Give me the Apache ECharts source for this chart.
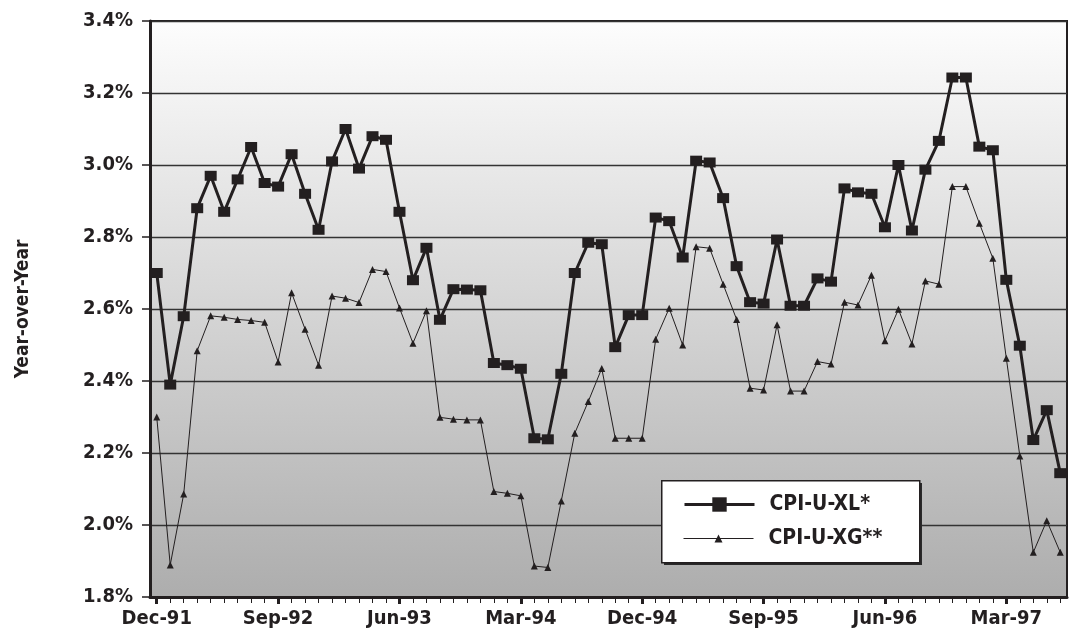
<!DOCTYPE html>
<html>
<head>
<meta charset="utf-8">
<script src="https://cdn.jsdelivr.net/npm/echarts@6/dist/echarts.min.js"></script>
<style>
  html, body { margin: 0; padding: 0; background: #ffffff; }
  #chart { width: 1069px; height: 636px; }
</style>
</head>
<body>
<div id="chart"></div>
<script>
// Monthly year-over-year CPI experimental measures, Dec-91 to Jul-97
const months = [
  'Dec-91','Jan-92','Feb-92','Mar-92','Apr-92','May-92','Jun-92','Jul-92','Aug-92','Sep-92','Oct-92','Nov-92',
  'Dec-92','Jan-93','Feb-93','Mar-93','Apr-93','May-93','Jun-93','Jul-93','Aug-93','Sep-93','Oct-93','Nov-93',
  'Dec-93','Jan-94','Feb-94','Mar-94','Apr-94','May-94','Jun-94','Jul-94','Aug-94','Sep-94','Oct-94','Nov-94',
  'Dec-94','Jan-95','Feb-95','Mar-95','Apr-95','May-95','Jun-95','Jul-95','Aug-95','Sep-95','Oct-95','Nov-95',
  'Dec-95','Jan-96','Feb-96','Mar-96','Apr-96','May-96','Jun-96','Jul-96','Aug-96','Sep-96','Oct-96','Nov-96',
  'Dec-96','Jan-97','Feb-97','Mar-97','Apr-97','May-97','Jun-97','Jul-97'
];

const seriesNames = ['CPI-U-XL*', 'CPI-U-XG**'];

// CPI-U-XL*, percent
const cpiXL = [
  2.70, 2.39, 2.58, 2.88, 2.97, 2.87, 2.96, 3.05, 2.95, 2.94, 3.03, 2.92,
  2.82, 3.01, 3.10, 2.99, 3.08, 3.07, 2.87, 2.68, 2.77, 2.57, 2.655, 2.654,
  2.652, 2.45, 2.444, 2.434, 2.241, 2.238, 2.42, 2.70, 2.784, 2.78, 2.494, 2.583,
  2.583, 2.854, 2.844, 2.743, 3.012, 3.007, 2.908, 2.719, 2.619, 2.615, 2.793, 2.609,
  2.609, 2.685, 2.676, 2.935, 2.924, 2.92, 2.827, 3.00, 2.818, 2.987, 3.067, 3.243,
  3.243, 3.051, 3.041, 2.681, 2.498, 2.236, 2.319, 2.144
];

// CPI-U-XG**, percent
const cpiXG = [
  2.30, 1.889, 2.086, 2.484, 2.581, 2.577, 2.571, 2.568, 2.563, 2.453, 2.645, 2.544,
  2.444, 2.636, 2.630, 2.618, 2.710, 2.704, 2.603, 2.505, 2.595, 2.299, 2.294, 2.292,
  2.292, 2.093, 2.088, 2.081, 1.886, 1.882, 2.067, 2.255, 2.343, 2.435, 2.241, 2.241,
  2.241, 2.516, 2.602, 2.50, 2.773, 2.769, 2.669, 2.571, 2.380, 2.375, 2.556, 2.372,
  2.372, 2.454, 2.447, 2.619, 2.611, 2.694, 2.512, 2.599, 2.503, 2.678, 2.669, 2.940,
  2.940, 2.838, 2.741, 2.463, 2.192, 1.924, 2.012, 1.924
];

// Value axis ticks
const yMin = 1.8, yMax = 3.4, yStep = 0.2;

const ink = '#231f20';
const font = '"DejaVu Sans Condensed", "DejaVu Sans", sans-serif';

const chart = echarts.init(document.getElementById('chart'), null, { renderer: 'canvas' });

chart.setOption({
  backgroundColor: '#ffffff',
  animation: false,
  grid: {
    left: 150, right: 2, top: 21, bottom: 39,
    show: true,
    borderColor: ink,
    borderWidth: 2,
    backgroundColor: {
      type: 'linear', x: 0, y: 0, x2: 0, y2: 1,
      colorStops: [
        { offset: 0, color: '#fdfdfd' },
        { offset: 1, color: '#adadad' }
      ]
    }
  },
  // Legend frame with its offset drop shadow
  graphic: [{
    type: 'rect',
    left: 664, top: 483, z: 49,
    shape: { width: 258, height: 82 },
    style: { fill: '#2a2a2a' }
  }, {
    type: 'rect',
    left: 661, top: 480, z: 50,
    shape: { width: 258, height: 82 },
    style: { fill: '#ffffff', stroke: ink, lineWidth: 1.5 }
  }],
  legend: [{
    data: [seriesNames[0]],
    left: 683, top: 494,
    padding: 0,
    itemWidth: 70, itemHeight: 18, itemGap: 0,
    lineStyle: { width: 3 },
    z: 60,
    textStyle: { fontFamily: font, fontWeight: 'bold', fontSize: 21, color: ink, padding: [0, 0, 0, 10] }
  }, {
    data: [seriesNames[1]],
    left: 683, top: 528,
    padding: 0,
    itemWidth: 70, itemHeight: 10, itemGap: 0,
    lineStyle: { width: 1 },
    z: 60,
    textStyle: { fontFamily: font, fontWeight: 'bold', fontSize: 21, color: ink, padding: [0, 0, 0, 10] }
  }],
  xAxis: [{
    type: 'category',
    data: months,
    boundaryGap: true,
    axisLine: { show: true, lineStyle: { color: ink, width: 3 } },
    axisTick: { show: true, interval: 0, alignWithLabel: true, length: 6, lineStyle: { color: ink, width: 1 } },
    axisLabel: {
      interval: 8, margin: 12,
      fontFamily: font, fontWeight: 'bold', fontSize: 20, color: ink
    },
    splitLine: { show: false }
  }, {
    type: 'category',
    data: months,
    position: 'bottom',
    boundaryGap: true,
    axisLine: { show: false },
    axisTick: { show: true, interval: 8, alignWithLabel: true, length: 7, lineStyle: { color: ink, width: 3 } },
    axisLabel: { show: false },
    splitLine: { show: false }
  }],
  yAxis: {
    type: 'value',
    min: yMin, max: yMax, interval: yStep,
    name: 'Year-over-Year',
    nameLocation: 'middle',
    nameGap: 117,
    nameTextStyle: { fontFamily: font, fontWeight: 'bold', fontSize: 19, color: ink },
    axisLine: { show: true, lineStyle: { color: ink, width: 3 } },
    axisTick: { show: true, length: 8, lineStyle: { color: ink, width: 1.5 } },
    axisLabel: {
      margin: 17,
      fontFamily: font, fontWeight: 'bold', fontSize: 20, color: ink,
      formatter: v => v.toFixed(1) + '%'
    },
    splitLine: { show: true, lineStyle: { color: '#333333', width: 1.3 } }
  },
  series: [{
    name: seriesNames[0],
    type: 'line',
    data: cpiXL,
    symbol: 'rect',
    symbolSize: [12, 10],
    showAllSymbol: true,
    lineStyle: { color: ink, width: 3 },
    itemStyle: { color: ink, borderColor: ink, borderWidth: 0 },
    z: 4
  }, {
    name: seriesNames[1],
    type: 'line',
    data: cpiXG,
    symbol: 'triangle',
    symbolSize: 7,
    showAllSymbol: true,
    lineStyle: { color: ink, width: 1 },
    itemStyle: { color: ink },
    z: 3
  }]
});
</script>
</body>
</html>
